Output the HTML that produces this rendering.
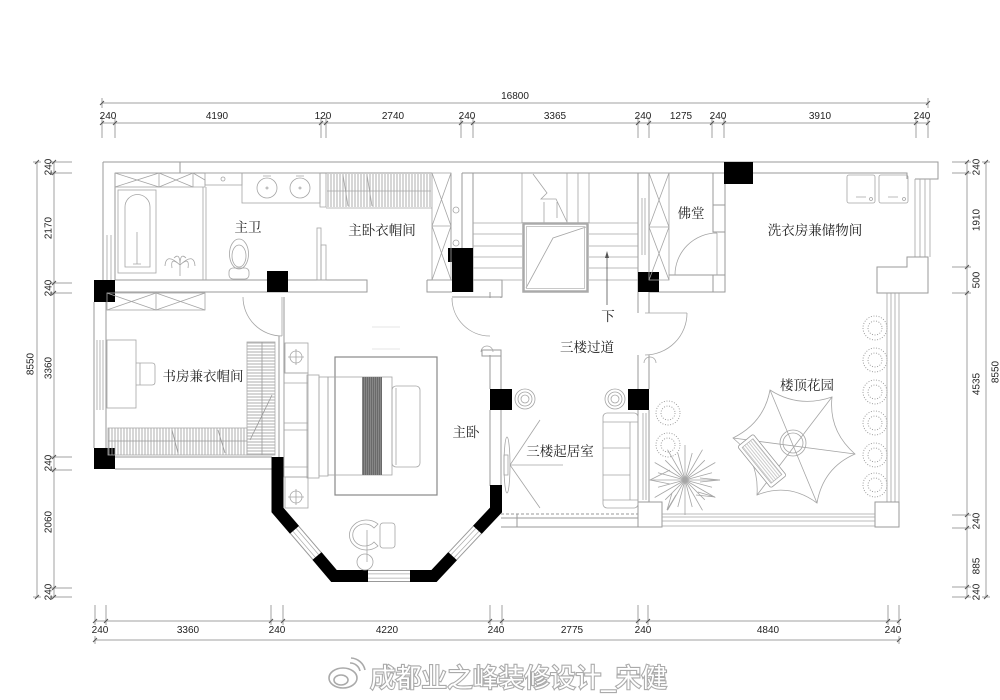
<!DOCTYPE html>
<html><head><meta charset="utf-8">
<style>
html,body{margin:0;padding:0;background:#fff;}
svg{display:block;}
.l{stroke:#9a9a9a;stroke-width:1;fill:none;}
.f{stroke:#a5a5a5;stroke-width:0.8;fill:none;}
.d{stroke:#a0a0a0;stroke-width:1;fill:none;}
.t{font-family:"Liberation Serif","Noto Serif CJK SC",serif;font-size:13.5px;fill:#222;text-anchor:middle;}
.n{font-family:"Liberation Sans",sans-serif;font-size:10px;fill:#222;text-anchor:middle;}
</style></head><body>
<svg width="1000" height="700" viewBox="0 0 1000 700" xmlns="http://www.w3.org/2000/svg">
<defs>
<pattern id="vh" width="3" height="10" patternUnits="userSpaceOnUse"><line x1="1" y1="0" x2="1" y2="10" stroke="#999" stroke-width="0.8"/></pattern>
<pattern id="hh" width="10" height="3" patternUnits="userSpaceOnUse"><line x1="0" y1="1" x2="10" y2="1" stroke="#999" stroke-width="0.8"/></pattern>
<pattern id="rv" width="2" height="10" patternUnits="userSpaceOnUse"><rect width="2" height="10" fill="#6a6a6a"/><line x1="0.5" y1="0" x2="0.5" y2="10" stroke="#9a9a9a" stroke-width="0.6"/></pattern>
<pattern id="lh" width="10" height="2.5" patternUnits="userSpaceOnUse"><line x1="0" y1="1" x2="10" y2="1" stroke="#aaa" stroke-width="0.6"/></pattern>
</defs>
<rect width="1000" height="700" fill="#fff"/>

<!-- ===== TOP DIMENSIONS ===== -->
<g class="d">
<path d="M102 103H928M102 123H928"/>
<path d="M102 98V108M928 98V108"/>
<path d="M102 117V138M115 117V138M321 117V138M326 117V138M461 117V138M473 117V138M638 117V138M649 117V138M712 117V138M724 117V138M916 117V138M928 117V138"/>
<path d="M100 125L104 121M113 125L117 121M319 125L323 121M324 125L328 121M459 125L463 121M471 125L475 121M636 125L640 121M647 125L651 121M710 125L714 121M722 125L726 121M914 125L918 121M926 125L930 121M100 105L104 101M926 105L930 101" stroke="#555"/>
</g>
<text class="n" x="515" y="99">16800</text>
<text class="n" x="108" y="119">240</text>
<text class="n" x="217" y="119">4190</text>
<text class="n" x="323" y="119">120</text>
<text class="n" x="393" y="119">2740</text>
<text class="n" x="467" y="119">240</text>
<text class="n" x="555" y="119">3365</text>
<text class="n" x="643" y="119">240</text>
<text class="n" x="681" y="119">1275</text>
<text class="n" x="718" y="119">240</text>
<text class="n" x="820" y="119">3910</text>
<text class="n" x="922" y="119">240</text>

<!-- ===== LEFT DIMENSIONS ===== -->
<g class="d">
<path d="M37 162V597M54 162V597"/>
<path d="M50 162H72M50 173H72M50 283H72M50 293H72M50 457H72M50 470H72M50 588H72M50 597H72M33 162H41M33 597H41"/>
<path d="M52 164L56 160M52 175L56 171M52 285L56 281M52 295L56 291M52 459L56 455M52 472L56 468M52 590L56 586M52 599L56 595M35 164L39 160M35 599L39 595" stroke="#555"/>
</g>
<g class="n">
<text transform="translate(48,167) rotate(-90)" dy="3.5">240</text>
<text transform="translate(48,228) rotate(-90)" dy="3.5">2170</text>
<text transform="translate(48,288) rotate(-90)" dy="3.5">240</text>
<text transform="translate(48,368) rotate(-90)" dy="3.5">3360</text>
<text transform="translate(48,463) rotate(-90)" dy="3.5">240</text>
<text transform="translate(48,522) rotate(-90)" dy="3.5">2060</text>
<text transform="translate(48,592) rotate(-90)" dy="3.5">240</text>
<text transform="translate(30,364) rotate(-90)" dy="3.5">8550</text>
</g>

<!-- ===== RIGHT DIMENSIONS ===== -->
<g class="d">
<path d="M967 162V597M986 162V597"/>
<path d="M952 162H971M952 173H971M952 267H971M952 293H971M952 515H971M952 528H971M952 587H971M952 597H971M982 162H990M982 597H990"/>
<path d="M965 164L969 160M965 175L969 171M965 269L969 265M965 295L969 291M965 517L969 513M965 530L969 526M965 589L969 585M965 599L969 595M984 164L988 160M984 599L988 595" stroke="#555"/>
</g>
<g class="n">
<text transform="translate(976,167) rotate(-90)" dy="3.5">240</text>
<text transform="translate(976,220) rotate(-90)" dy="3.5">1910</text>
<text transform="translate(976,280) rotate(-90)" dy="3.5">500</text>
<text transform="translate(976,384) rotate(-90)" dy="3.5">4535</text>
<text transform="translate(976,521) rotate(-90)" dy="3.5">240</text>
<text transform="translate(976,566) rotate(-90)" dy="3.5">885</text>
<text transform="translate(976,592) rotate(-90)" dy="3.5">240</text>
<text transform="translate(995,372) rotate(-90)" dy="3.5">8550</text>
</g>

<!-- ===== BOTTOM DIMENSIONS ===== -->
<g class="d">
<path d="M95 621H899M95 640H899"/>
<path d="M95 605V625M106 605V625M271 605V625M283 605V625M490 605V625M502 605V625M638 605V625M648 605V625M888 605V625M899 605V625M95 636V644M899 636V644"/>
<path d="M93 623L97 619M104 623L108 619M269 623L273 619M281 623L285 619M488 623L492 619M500 623L504 619M636 623L640 619M646 623L650 619M886 623L890 619M897 623L901 619M93 642L97 638M897 642L901 638" stroke="#555"/>
</g>
<text class="n" x="100" y="633">240</text>
<text class="n" x="188" y="633">3360</text>
<text class="n" x="277" y="633">240</text>
<text class="n" x="387" y="633">4220</text>
<text class="n" x="496" y="633">240</text>
<text class="n" x="572" y="633">2775</text>
<text class="n" x="643" y="633">240</text>
<text class="n" x="768" y="633">4840</text>
<text class="n" x="893" y="633">240</text>

<!-- ===== WALLS ===== -->
<g class="l">
<!-- top wall -->
<path d="M103 162H938V179H915M115 173H432M462 173H724M753 173H907V179"/>
<path d="M180 162V173"/>
<!-- left wall bath -->
<path d="M103 162V280M115 173V280"/>
<path d="M107 235V280M111 235V280" class="f"/>
<!-- bath bottom band -->
<path d="M115 280H367V292H115M367 280V292"/>
<!-- study left wall -->
<path d="M94 302V448M106 302V448"/>
<path d="M97 340V410M100 340V410M103 340V410" class="f"/>
<!-- study bottom -->
<path d="M115 457H272M115 469H272"/>
<!-- study/bed wall -->
<path d="M279 336V457M284 297V457"/>
<!-- closet/stair band -->
<path d="M427 280H502V297H452M427 280V292H452"/>
<path d="M451 173V248M462 173V248"/>
<!-- stair -->
<path d="M473 173V292M638 173V292M649 173V292H659"/>
<path d="M642 198V255M645 198V255" class="f"/>
<!-- fotang -->
<path d="M713 173V205H725V232H713V205M725 184V275M669 275H725V292H659M713 275V292"/>
<!-- laundry right -->
<path d="M915 179V257M920 179V257M925 179V257M930 179V257" class="f"/>
<path d="M907 257H928V293H877V267H907Z"/>
<!-- garden right -->
<path d="M887 293V502M891 293V502M895 293V502M899 293V502" class="f"/>
<rect x="875" y="502" width="24" height="25"/>
<rect x="638" y="502" width="24" height="25"/>
<path d="M662 514H875M662 517H875M662 521H875M662 526H875" class="f"/>
<!-- corridor/garden wall -->
<path d="M638 292V313M649 292V313M638 355V389M649 355V389M638 410V502M649 410V502"/>
<path d="M643 413V500M646 413V500" class="f"/>
<!-- corridor left wall -->
<path d="M490 292V298M501 297V298M490 355V389M501 350V389M490 410V486M501 410V486M482 350H501V356H482Z"/>
<!-- corridor bottom -->
<path d="M501 518H638M501 527H638M517 514V527"/>
<path d="M501 514H638" stroke-dasharray="3 2"/>
</g>

<!-- pillars -->
<g fill="#000">
<rect x="94" y="280" width="21" height="22"/>
<rect x="94" y="448" width="21" height="21"/>
<rect x="267" y="271" width="21" height="21"/>
<path d="M448 248H473V292H452V262H448Z"/>
<rect x="638" y="272" width="21" height="20"/>
<rect x="724" y="162" width="29" height="22"/>
<rect x="490" y="389" width="22" height="21"/>
<rect x="628" y="389" width="21" height="21"/>
</g>

<!-- bay window -->
<g fill="none" stroke-linejoin="miter">
<path d="M294.5 529.8L317 556M368 576H410M452.6 556.2L477.4 529.8" stroke="#999" stroke-width="12"/>
<path d="M294.5 529.8L317 556M368 576H410M452.6 556.2L477.4 529.8" stroke="#fff" stroke-width="10"/>
<path d="M294.5 529.8L317 556M368 576H410M452.6 556.2L477.4 529.8" stroke="#aaa" stroke-width="5"/>
<path d="M294.5 529.8L317 556M368 576H410M452.6 556.2L477.4 529.8" stroke="#fff" stroke-width="3.6"/>
<path d="M277.5 457V510L294.5 529.8M317 556L334 576H368M410 576H434L452.6 556.2M477.4 529.8L496 510V485" stroke="#000" stroke-width="12"/>
</g>

<!-- ===== BATHROOM ===== -->
<g class="f">
<rect x="115" y="173" width="78" height="14"/>
<path d="M115 173L159 187M159 173L115 187M159 173L193 187M193 173L159 187M159 173V187M193 173L205 180V187H193"/>
<rect x="118" y="190" width="38" height="83"/>
<path d="M125 267V207A12.5 12.5 0 0 1 150 207V267Z"/>
<path d="M137 232V264M133 264H141"/>
<path d="M203 187V280M206 187V280"/>
<rect x="205" y="173" width="37" height="12"/>
<circle cx="223" cy="179" r="2"/>
<rect x="242" y="173" width="78" height="30"/>
<circle cx="267" cy="188" r="10"/><circle cx="300" cy="188" r="10"/>
<circle cx="267" cy="188" r="1"/><circle cx="300" cy="188" r="1"/>
<path d="M263 176H271M296 176H304"/>
<ellipse cx="239" cy="254" rx="9.5" ry="15"/>
<ellipse cx="239" cy="256" rx="7" ry="11"/>
<rect x="229" y="268" width="20" height="11" rx="4"/>
<path d="M180 276V265M180 265Q170 256 172 268M180 265Q190 256 188 268M180 265Q166 252 165 266M180 265Q194 252 195 266M180 265Q180 252 174 258M180 265Q180 252 186 258"/>
<path d="M320 173V207H326V173M326 208H432"/>
<rect x="317" y="228" width="4" height="52"/>
<rect x="321" y="245" width="5" height="35"/>
</g>
<!-- closet rail -->
<rect x="327" y="174" width="104" height="33" fill="url(#vh)"/>
<g class="f">
<path d="M327 191H431M343 175L348 206M367 175L372 206"/>
<rect x="432" y="173" width="19" height="107"/>
<path d="M432 173L451 226M451 173L432 226M432 226L451 280M451 226L432 280M432 226H451"/>
<circle cx="456" cy="210" r="3"/><circle cx="456" cy="243" r="3"/>
</g>

<!-- ===== STAIRS ===== -->
<g class="f">
<path d="M522 173V223M567 173V223M578 173V223M589 173V223"/>
<path d="M473 223H522M473 234H522M473 246H522M473 257H522M473 268H522M473 280H522"/>
<path d="M589 223H638M589 234H638M589 246H638M589 257H638M589 268H638M589 280H638"/>
<path d="M526 288L553 238L586 227"/>
<path d="M533 174L547 193L541 199L556 199L567 222M544 202V223M557 202V218"/>
</g>
<rect x="523.5" y="223.5" width="64" height="68" fill="none" stroke="#aaa" stroke-width="2.5"/>
<rect x="526.5" y="226.5" width="58" height="62" fill="none" stroke="#bbb" stroke-width="0.8"/>
<path d="M607 254V305" stroke="#555" stroke-width="0.8"/>
<path d="M605 258L607 251L609 258Z" fill="#555"/>

<!-- ===== FOTANG ===== -->
<g class="f">
<rect x="649" y="173" width="20" height="107"/>
<path d="M649 173L669 227M669 173L649 227M649 227L669 280M669 227L649 280M649 227H669"/>
<path d="M717 233V275M717 233A42 42 0 0 0 675 275"/>
</g>

<!-- ===== LAUNDRY ===== -->
<g class="f">
<rect x="847" y="175" width="28" height="28" rx="2"/>
<rect x="879" y="175" width="29" height="28" rx="2"/>
<path d="M856 197H866M888 197H898"/>
<circle cx="871" cy="199" r="1.5"/><circle cx="904" cy="199" r="1.5"/>
</g>

<!-- ===== DOORS ===== -->
<g class="f">
<path d="M243 297A39 39 0 0 0 282 336M282 297V336"/>
<path d="M452 298A38 38 0 0 0 490 336"/>
<path d="M481 352A6 6 0 0 1 493 352"/>
<path d="M645 313H687M687 313A42 42 0 0 1 645 355"/>
<path d="M644 363A6 6 0 0 1 656 363"/>
</g>

<!-- ===== STUDY ===== -->
<g class="f">
<rect x="107" y="293" width="98" height="17"/>
<path d="M107 293L156 310M156 293L107 310M156 293L205 310M205 293L156 310M156 293V310"/>
<rect x="107" y="340" width="29" height="68"/>
<path d="M136 363H152Q155 363 155 366V382Q155 385 152 385H136M140 363V385"/>
</g>
<rect x="247" y="342" width="28" height="113" fill="url(#hh)" stroke="#aaa" stroke-width="0.8"/>
<path d="M262 342V455M250 440L272 395" stroke="#999" stroke-width="0.8" fill="none"/>
<rect x="108" y="428" width="139" height="27" fill="url(#vh)" stroke="#aaa" stroke-width="0.8"/>
<path d="M108 441H247M172 430L178 453M218 430L225 453" stroke="#999" stroke-width="0.8" fill="none"/>

<!-- ===== BEDROOM ===== -->
<g class="f">
<rect x="335" y="357" width="102" height="138" stroke="#888" stroke-width="1.2"/>
<rect x="285" y="343" width="23" height="30"/>
<circle cx="296" cy="357" r="6"/><path d="M288 357H304M296 349V365"/>
<rect x="285" y="477" width="23" height="31"/>
<circle cx="296" cy="497" r="6"/><path d="M288 497H304M296 489V505"/>
<rect x="284" y="373" width="24" height="104"/>
<path d="M284 383H308M284 423H308M284 430H308M284 467H308"/>
<rect x="307" y="375" width="12" height="103"/>
<rect x="319" y="377" width="9" height="99"/>
<rect x="328" y="377" width="64" height="98"/>
<rect x="392" y="386" width="28" height="81" rx="4"/>
<path d="M396 388V465"/>
<path d="M372 327H400M372 349H400" stroke="#ddd"/>
</g>
<rect x="362" y="377" width="20" height="98" fill="url(#rv)"/>
<!-- bay chair -->
<g class="f">
<path d="M378 524A17 15 0 1 0 378 546L374 542A12 11 0 1 1 374 528Z"/>
<rect x="380" y="523" width="15" height="25" rx="3"/>
<circle cx="365" cy="562" r="8"/>
<path d="M367 530V562"/>
</g>

<!-- ===== CORRIDOR / LIVING ===== -->
<g class="f">
<circle cx="525" cy="399" r="10"/><circle cx="525" cy="399" r="7"/><circle cx="525" cy="399" r="4"/>
<circle cx="615" cy="399" r="10"/><circle cx="615" cy="399" r="7"/><circle cx="615" cy="399" r="4"/>
<rect x="603" y="413" width="35" height="95" rx="4"/>
<path d="M603 422H638M603 500H638M630 422V500M603 448H630M603 475H630"/>
<ellipse cx="507" cy="465" rx="3" ry="28"/>
<rect x="504" y="455" width="4" height="20"/>
<path d="M510 465L540 420M510 465L540 508M510 465H563"/>
</g>

<!-- ===== GARDEN ===== -->
<g fill="none" stroke="#999" stroke-width="0.9" stroke-dasharray="1 1.6">
<circle cx="668" cy="413" r="12"/><circle cx="668" cy="413" r="7"/>
<circle cx="668" cy="445" r="12"/><circle cx="668" cy="445" r="7"/>
<circle cx="875" cy="328" r="12"/><circle cx="875" cy="328" r="7"/>
<circle cx="875" cy="360" r="12"/><circle cx="875" cy="360" r="7"/>
<circle cx="875" cy="392" r="12"/><circle cx="875" cy="392" r="7"/>
<circle cx="875" cy="423" r="12"/><circle cx="875" cy="423" r="7"/>
<circle cx="875" cy="455" r="12"/><circle cx="875" cy="455" r="7"/>
<circle cx="875" cy="485" r="12"/><circle cx="875" cy="485" r="7"/>
</g>
<g class="f">
<path d="M685 480L720 480M685 480L715.3 497.5M685 480L702.5 510.3M685 480L685 515M685 480L667.5 510.3M685 480L654.7 497.5M685 480L650 480M685 480L654.7 462.5M685 480L667.5 449.7M685 480L685 445M685 480L702.5 449.7M685 480L715.3 462.5"/>
<path d="M685 480L712 487.2M685 480L704.8 499.8M685 480L692.2 507M685 480L677.8 507M685 480L665.2 499.8M685 480L658 487.2M685 480L658 472.8M685 480L665.2 460.2M685 480L677.8 453M685 480L692.2 453M685 480L704.8 460.2M685 480L712 472.8"/>
<path d="M700 478L720 480L700 482M698 492L715 497L696 495M676 495L667 510L672 493M670 470L650 480L670 484"/>
<!-- umbrella -->
<path d="M770 390Q798.6 408.4 832 397Q828.4 430.8 855 454Q823.1 467.9 817 503Q788.8 482.2 757 495Q759.4 459.5 733 438Q764 422.7 770 390Z"/>
<path d="M770 390L817 503M832 397L757 495M855 454L733 438"/>
<circle cx="793" cy="443" r="13"/><circle cx="793" cy="443" r="10"/>
</g>
<g transform="translate(762,461) rotate(51)">
<rect x="-26.5" y="-10" width="53" height="20" rx="2" fill="#fff" stroke="#999" stroke-width="0.8"/>
<rect x="-23" y="-7" width="46" height="14" fill="url(#lh)" stroke="#aaa" stroke-width="0.6"/>
</g>

<!-- ===== LABELS ===== -->
<text class="t" x="248" y="232">主卫</text>
<text class="t" x="382" y="235">主卧衣帽间</text>
<text class="t" x="691" y="218">佛堂</text>
<text class="t" x="815" y="235">洗衣房兼储物间</text>
<text class="t" x="608" y="321">下</text>
<text class="t" x="587" y="352">三楼过道</text>
<text class="t" x="203" y="381">书房兼衣帽间</text>
<text class="t" x="807" y="390">楼顶花园</text>
<text class="t" x="466" y="437">主卧</text>
<text class="t" x="560" y="456">三楼起居室</text>

<!-- ===== WATERMARK ===== -->
<g fill="none" stroke="#aaa" stroke-width="1.6">
<ellipse cx="343" cy="678" rx="14" ry="10"/>
<ellipse cx="341" cy="680" rx="7" ry="5"/>
<path d="M350 663A10 10 0 0 1 360 671M351 658A15 15 0 0 1 365 670"/>
</g>
<text x="370" y="687" textLength="297" lengthAdjust="spacingAndGlyphs" style="font-family:'Liberation Sans','Noto Sans CJK SC',sans-serif;font-size:26px;fill:#fff;stroke:#aaa;stroke-width:2.2;paint-order:stroke fill;">成都业之峰装修设计_宋健</text>
</svg>
</body></html>
